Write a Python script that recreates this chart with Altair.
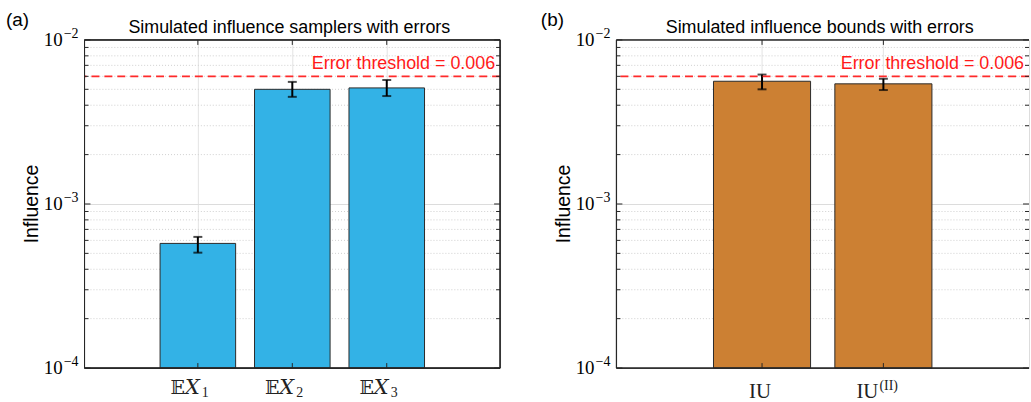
import altair as alt
import pandas as pd

# ---- data ----
cats_a = ["EX1", "EX2", "EX3"]
subs_a = ["1", "2", "3"]
vals_a = [5.75e-4, 5.0e-3, 5.1e-3]
lo_a = [5.05e-4, 4.5e-3, 4.55e-3]
hi_a = [6.3e-4, 5.55e-3, 5.7e-3]

cats_b = ["IU", "IU(II)"]
vals_b = [5.6e-3, 5.4e-3]
lo_b = [5.0e-3, 4.95e-3]
hi_b = [6.15e-3, 5.8e-3]

threshold = 0.006
major_ticks = [1e-4, 1e-3, 1e-2]
major_exps = ["−4", "−3", "−2"]
minor_ticks = [2e-4, 3e-4, 4e-4, 5e-4, 6e-4, 7e-4, 8e-4, 9e-4,
               2e-3, 3e-3, 4e-3, 5e-3, 6e-3, 7e-3, 8e-3, 9e-3]

title_a = "Simulated influence samplers with errors"
title_b = "Simulated influence bounds with errors"

H = 330
FRAME = "#262626"
SANS = "Liberation Sans"
SERIF = "Liberation Serif"


def panel(cats, vals, lo, hi, color, title, tag, W, tag_x, right_border=True):
    df = pd.DataFrame({"cat": cats, "val": vals, "lo": lo, "hi": hi})
    yscale = alt.Scale(type="log", domain=[1e-4, 1e-2], nice=False)
    xscale = alt.Scale(paddingInner=0.2, paddingOuter=0.8, domain=cats)
    xenc = alt.X("cat:N", sort=None, scale=xscale,
                 axis=alt.Axis(title=None, labels=False, ticks=False, domain=False,
                               grid=True, gridColor="#e3e3e3", bandPosition=0.5))
    xc = alt.X("cat:N", sort=None, scale=xscale)
    base = alt.Chart(df)

    minor_df = pd.DataFrame({"v": minor_ticks})
    major_df = pd.DataFrame({"v": major_ticks, "e": major_exps})

    minor_grid = alt.Chart(minor_df).mark_rule(
        color="#d0d0d0", strokeDash=[1, 2], strokeWidth=1
    ).encode(y=alt.Y("v:Q", scale=yscale))

    bars = base.mark_bar(color=color, stroke="#2a2a2a", strokeWidth=1).encode(
        x=xenc,
        y=alt.Y("val:Q", scale=yscale,
                axis=alt.Axis(title=None, values=major_ticks, labels=False,
                              ticks=False, domain=False, grid=True, gridColor="#dcdcdc")),
        y2=alt.datum(1e-4),
    )
    err_rule = base.mark_rule(color="black", strokeWidth=2).encode(
        x=xc, y="lo:Q", y2="hi:Q")
    cap_lo = base.mark_tick(color="black", thickness=2, size=9).encode(
        x=xc, y=alt.Y("lo:Q", scale=yscale))
    cap_hi = base.mark_tick(color="black", thickness=2, size=9).encode(
        x=xc, y=alt.Y("hi:Q", scale=yscale))

    thr_df = pd.DataFrame({"t": [threshold],
                           "lab": ["Error threshold = " + str(threshold)]})
    thr_line = alt.Chart(thr_df).mark_rule(
        color="#ff2a2a", strokeDash=[8, 5], strokeWidth=1.8
    ).encode(y=alt.Y("t:Q", scale=yscale))
    thr_text = alt.Chart(thr_df).mark_text(
        color="#ff1a1a", font=SANS, fontSize=18, align="right",
        baseline="alphabetic", dy=-7
    ).encode(x=alt.value(W - 5), y=alt.Y("t:Q", scale=yscale), text="lab:N")

    # inward ticks on left/right axes
    lt_minor = alt.Chart(minor_df).mark_rule(color=FRAME).encode(
        x=alt.value(0), x2=alt.value(4), y=alt.Y("v:Q", scale=yscale))
    lt_major = alt.Chart(major_df).mark_rule(color=FRAME).encode(
        x=alt.value(0), x2=alt.value(6), y=alt.Y("v:Q", scale=yscale))
    rt_minor = alt.Chart(minor_df).mark_rule(color=FRAME).encode(
        x=alt.value(W - 4), x2=alt.value(W), y=alt.Y("v:Q", scale=yscale))
    rt_major = alt.Chart(major_df).mark_rule(color=FRAME).encode(
        x=alt.value(W - 6), x2=alt.value(W), y=alt.Y("v:Q", scale=yscale))
    # inward ticks on top/bottom
    bt = base.mark_rule(color=FRAME).encode(x=xc, y=alt.value(H - 5), y2=alt.value(H))
    tt = base.mark_rule(color=FRAME).encode(x=xc, y=alt.value(0), y2=alt.value(5))

    # y tick labels 10^k
    ten = alt.Chart(major_df).mark_text(
        text="10", font=SERIF, fontSize=19, align="right", baseline="middle", color="black"
    ).encode(x=alt.value(-22), y=alt.Y("v:Q", scale=yscale))
    exp = alt.Chart(major_df).mark_text(
        font=SERIF, fontSize=14, align="left", baseline="middle", color="black", dy=-6
    ).encode(x=alt.value(-21), y=alt.Y("v:Q", scale=yscale), text="e:N")
    ytitle = alt.Chart(pd.DataFrame({"t": ["Influence"]})).mark_text(
        font=SANS, fontSize=19.5, angle=270, align="center", baseline="middle",
        color="black"
    ).encode(x=alt.value(-53), y=alt.value(H / 2), text="t:N")

    # frame
    f_top = base.mark_rule(color=FRAME, strokeWidth=1).encode(
        x=alt.value(0), x2=alt.value(W), y=alt.value(0))
    f_bot = base.mark_rule(color=FRAME, strokeWidth=1.2).encode(
        x=alt.value(0), x2=alt.value(W), y=alt.value(H))
    f_left = base.mark_rule(color=FRAME, strokeWidth=1).encode(
        x=alt.value(0), y=alt.value(0), y2=alt.value(H))
    layers = [minor_grid, bars, err_rule, cap_lo, cap_hi, thr_line, thr_text,
              lt_minor, lt_major, rt_minor, rt_major, bt, tt, f_top, f_bot, f_left,
              ten, exp, ytitle]
    if right_border:
        f_right = base.mark_rule(color=FRAME, strokeWidth=1).encode(
            x=alt.value(W), y=alt.value(0), y2=alt.value(H))
        layers.append(f_right)

    tt_df = pd.DataFrame({"tag": [tag], "title": [title]})
    tag_text = alt.Chart(tt_df).mark_text(
        font=SANS, fontSize=19, align="left", baseline="top", color="black"
    ).encode(x=alt.value(tag_x), y=alt.value(-29), text="tag:N")
    title_text = alt.Chart(tt_df).mark_text(
        font=SANS, fontSize=18, align="center", baseline="alphabetic", color="black"
    ).encode(x=alt.value(W / 2 - 3), y=alt.value(-7), text="title:N")
    layers += [tag_text, title_text]
    return layers, xc


def panel_a():
    W = 418
    layers, xc = panel(cats_a, vals_a, lo_a, hi_a, "#33B2E6", title_a, "(a)", W, -79)
    ldf = pd.DataFrame({"cat": cats_a, "sub": subs_a})
    lb = alt.Chart(ldf)
    yb = alt.value(H + 26)
    e_txt = lb.mark_text(text="𝔼", font="DejaVu Serif, DejaVu Sans", fontSize=19,
                         align="right", baseline="alphabetic", color="#222", dx=-13
                         ).encode(x=xc, y=yb)
    x_txt = lb.mark_text(text="X", font="DejaVu Serif", fontStyle="italic", fontSize=21,
                         align="left", baseline="alphabetic", color="#222", dx=-13
                         ).encode(x=xc, y=yb)
    s_txt = lb.mark_text(font=SERIF, fontSize=14, align="left", baseline="alphabetic",
                         color="#222", dx=4, dy=3).encode(x=xc, y=yb, text="sub:N")
    layers += [e_txt, x_txt, s_txt]
    return alt.layer(*layers).properties(width=W, height=H)


def panel_b():
    W = 415
    layers, xc = panel(cats_b, vals_b, lo_b, hi_b, "#CC8033", title_b, "(b)", W, -76,
                       right_border=False)
    yb = alt.value(H + 30)
    d0 = alt.Chart(pd.DataFrame({"cat": [cats_b[0]], "m": ["IU"]}))
    d1 = alt.Chart(pd.DataFrame({"cat": [cats_b[1]], "m": ["IU"], "s": ["(II)"]}))
    t0 = d0.mark_text(font=SERIF, fontSize=21, align="center", baseline="alphabetic",
                      color="#222", dx=-2).encode(x=xc, y=yb, text="m:N")
    t1 = d1.mark_text(font=SERIF, fontSize=21, align="right", baseline="alphabetic",
                      color="#222", dx=-5).encode(x=xc, y=yb, text="m:N")
    t2 = d1.mark_text(font=SERIF, fontSize=14, align="left", baseline="alphabetic",
                      color="#222", dx=-4, dy=-8).encode(x=xc, y=yb, text="s:N")
    layers += [t0, t1, t2]
    return alt.layer(*layers).properties(width=W, height=H)


chart = alt.hconcat(panel_a(), panel_b(), spacing=38).properties(
    padding={"left": 5, "top": 9, "right": 0, "bottom": 0}
).configure_view(stroke=None).configure(background="white")

chart.save("out.html", embed_options={"renderer": "svg", "actions": False})
